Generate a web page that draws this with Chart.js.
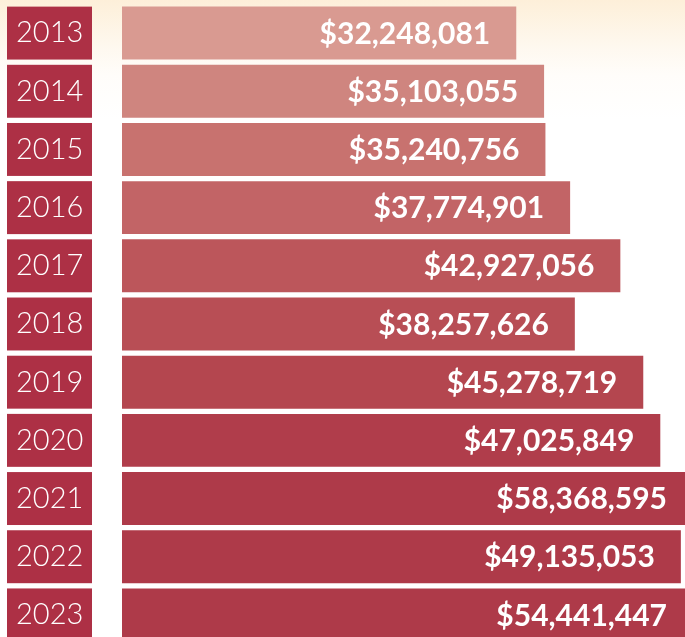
<!DOCTYPE html>
<html>
<head>
<meta charset="utf-8">
<script src="https://cdn.jsdelivr.net/npm/chart.js@4"></script>
<style>
  html, body {
    margin: 0;
    padding: 0;
    overflow: hidden;
    width: 685px;
    height: 637px;
  }
  body {
    background: linear-gradient(to bottom, #fdefd9 0px, #fef8ee 45px, #fffdfa 75px, #ffffff 120px);
  }
  #wrap {
    position: absolute;
    left: 0;
    top: 0;
    width: 685px;
    height: 644px;
  }
</style>
</head>
<body>
<div id="wrap"><canvas id="chart" width="685" height="644"></canvas></div>
<script>
const years = ['2013', '2014', '2015', '2016', '2017', '2018', '2019', '2020', '2021', '2022', '2023'];
const amounts = [32248081, 35103055, 35240756, 37774901, 42927056, 38257626, 45278719, 47025849, 58368595, 49135053, 54441447];
const barColors = ['#d99a91', '#cf857f', '#c8726f', '#c26466', '#bc565b', '#b84e55', '#b4464f', '#b03d4b', '#ae3a49', '#ae3a49', '#ae3a49'];
const yearBoxColor = '#ad3045';

// the bars in the original don't start at zero, so the scale is offset
const axisMin = -8200000;
const axisMax = 49560000;

// red boxes behind the year labels
const yearBoxes = {
  id: 'yearBoxes',
  beforeDraw(chart) {
    const ctx = chart.ctx;
    const meta = chart.getDatasetMeta(0);
    ctx.save();
    ctx.fillStyle = yearBoxColor;
    meta.data.forEach((bar) => {
      const h = bar.height;
      ctx.fillRect(7, bar.y - h / 2, 85, h);
    });
    ctx.restore();
  },
};

// dollar amounts at the end of each bar
const valueLabels = {
  id: 'valueLabels',
  afterDatasetsDraw(chart) {
    const ctx = chart.ctx;
    const meta = chart.getDatasetMeta(0);
    const right = chart.chartArea.right + 8;
    ctx.save();
    ctx.fillStyle = '#ffffff';
    ctx.font = 'bold 30px Lato';
    ctx.textAlign = 'right';
    ctx.textBaseline = 'middle';
    meta.data.forEach((bar, i) => {
      const end = Math.min(bar.x, right);
      ctx.fillText('$' + amounts[i].toLocaleString('en-US'), end - 26, bar.y + 1);
    });
    ctx.restore();
  },
};

new Chart(document.getElementById('chart'), {
  type: 'bar',
  data: {
    labels: years,
    datasets: [{
      data: amounts,
      backgroundColor: barColors,
      base: axisMin,
      borderWidth: 0,
      categoryPercentage: 1,
      barPercentage: 0.91,
    }],
  },
  options: {
    indexAxis: 'y',
    responsive: false,
    animation: false,
    layout: { padding: { top: 4, left: 16, right: 0, bottom: 0 } },
    plugins: {
      legend: { display: false },
      tooltip: { enabled: false },
    },
    scales: {
      x: {
        display: false,
        min: axisMin,
        max: axisMax,
      },
      y: {
        grid: { display: false },
        border: { display: false },
        afterFit: (scale) => {
          scale.width = 106;
          scale.paddingTop = 0;
          scale.paddingBottom = 0;
        },
        ticks: {
          color: '#ffffff',
          crossAlign: 'far',
          padding: 0,
          font: { family: 'Lato', weight: 300, size: 29 },
        },
      },
    },
  },
  plugins: [yearBoxes, valueLabels],
});
</script>
</body>
</html>
